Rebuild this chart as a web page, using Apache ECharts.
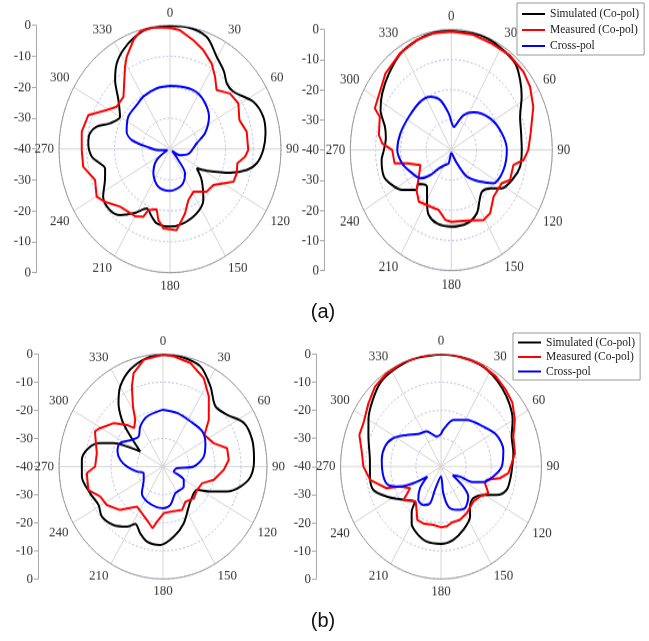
<!DOCTYPE html>
<html>
<head>
<meta charset="utf-8">
<script src="https://cdn.jsdelivr.net/npm/echarts@6/dist/echarts.min.js"></script>
<style>
  html, body { margin: 0; padding: 0; background: #fff; width: 649px; height: 641px; overflow: hidden; }
  .plot { position: absolute; transform-origin: 0 0; }
</style>
</head>
<body>
<div id="p1" class="plot"></div>
<div id="p2" class="plot"></div>
<div id="p3" class="plot"></div>
<div id="p4" class="plot"></div>
<div id="overlay" style="position:absolute;left:0;top:0;width:649px;height:641px;pointer-events:none;"></div>
<script>
// pattern values: [angle in degrees, gain in dB]
const simA1 = [[0,-0.2],[8.6,-0.1],[20,-1.4],[29.3,-5.7],[37.9,-8.3],[43.9,-10.5],[50.9,-10.6],[63,-6.3],[72.8,-4.8],[81.6,-5.2],[90.5,-6.4],[98.4,-8.4],[103.8,-11.5],[109.5,-17],[117.9,-25],[123,-28.5],[131.4,-24.8],[143.9,-19.6],[155.2,-17.1],[168.7,-15.5],[180,-14.9],[191.3,-15.5],[196.8,-17.2],[203.6,-19],[211.5,-15.8],[220.1,-12.1],[227.7,-10.7],[237.4,-11.4],[246.8,-14.5],[255.1,-15.8],[259.6,-14.3],[265,-11.7],[273.6,-10.5],[280,-10.7],[285.3,-12.6],[291,-16.8],[300,-19.2],[310.4,-15.6],[318.4,-10.2],[325.3,-6.3],[332.3,-3.8],[339.8,-1.8],[347.9,-0.3],[360,-0.2]];
const measA1 = [[0,-0.8],[5.3,-1.4],[13.4,-3.8],[20.5,-5.8],[28.4,-8.5],[34.7,-11.5],[41.4,-14.6],[50.3,-11.9],[59.1,-11.3],[69.4,-13.3],[78.5,-11.8],[90.6,-11.8],[95.2,-12.8],[100.8,-15.3],[108.1,-14.7],[114.8,-14.8],[126.7,-20.5],[136.3,-20.9],[148.7,-23.8],[158.2,-22.2],[165.4,-18.5],[174.8,-13.7],[185.3,-14.2],[190.4,-16.7],[193.8,-19.9],[201.6,-18.8],[203.7,-16.1],[210.2,-14.9],[224,-14.1],[234,-11],[239.8,-9.4],[249.6,-11.2],[259.6,-8.2],[269.4,-8.2],[280,-7.7],[290.5,-8.6],[298.9,-13.9],[305.5,-16.4],[315.2,-16.2],[328.7,-8.8],[332.4,-6.3],[339.5,-2.4],[344.1,-0.5],[351.3,-0.2],[360,-0.8]];
const crossA1 = [[0,-19.6],[6.7,-19.5],[23.8,-19.2],[37.1,-20.1],[53.4,-22.5],[68,-26.4],[79,-30.2],[90,-31.8],[103.6,-33.2],[118.5,-35.9],[128,-39],[139.9,-35.4],[145.6,-30.4],[160.2,-27.6],[180,-26.5],[199,-27.1],[217.3,-30.1],[233.4,-34],[248,-39],[264,-36],[275,-31.6],[282,-25.9],[289.7,-23.4],[304.8,-21.7],[319.9,-21.4],[330.4,-20.5],[346.3,-19.8],[360,-19.6]];

const simA2 = [[0,-0.5],[16.5,-0.2],[28.7,-0.8],[41.4,-1.7],[49.6,-4.2],[57.6,-7],[67.9,-10.6],[78.7,-11.8],[90,-12.1],[101.5,-12.2],[110.9,-13.7],[122.4,-16.3],[129.6,-20],[138.7,-21.6],[145.9,-20],[154.3,-16.7],[165.7,-14.9],[180,-14.6],[193,-15],[202.6,-16.7],[208.5,-19.9],[218.3,-24.5],[229.4,-22.8],[226.5,-20.8],[235.8,-16.4],[243.7,-13.8],[251.7,-11.9],[263.2,-12.2],[270,-13.3],[278.5,-13.8],[286.4,-12.6],[295.3,-9],[304.5,-6.8],[315.8,-4.6],[327.9,-2.2],[339.6,-1.1],[349.8,-0.5],[360,-0.5]];
const measA2 = [[0,-0.6],[12.8,-0.8],[24.6,-1.2],[36.5,-1],[47.7,-1.4],[56,-2.4],[66.2,-4.5],[80,-8.1],[90,-9.5],[96.6,-11.2],[101.4,-14.9],[113.2,-14.7],[118.9,-17.2],[132.8,-17.2],[143.7,-14],[151.2,-13.5],[165.2,-15.8],[180,-16.2],[185.8,-16.7],[194.1,-19.5],[203.8,-19.5],[217,-18.6],[226.2,-20.9],[233.9,-24],[247.9,-26.8],[255.9,-22],[259,-17.1],[270,-16.6],[274.6,-12.6],[279.8,-10.9],[291.3,-9.6],[294.5,-6.7],[305.3,-5.6],[314.3,-3.6],[328,-2],[340,-1],[350,-0.6],[360,-0.6]];
const crossA2 = [[0,-30.5],[8,-32.3],[14.2,-30.9],[22.8,-27.4],[35.2,-24.7],[55.8,-21.4],[74.6,-19.2],[90,-18],[107.8,-18.3],[123.4,-20],[132.5,-24.5],[144.9,-29.2],[153,-35],[165,-38.5],[180,-39],[193.3,-35.5],[205.6,-34.5],[219.4,-32.1],[225,-28.3],[232.5,-24.6],[246,-22.3],[257.3,-20],[270,-18.6],[285.3,-19.1],[303.3,-19.9],[322.6,-19.8],[334.9,-20.5],[345.3,-22.9],[355.1,-27.8],[360,-30.5]];

const simB1 = [[0,-0.2],[9.7,-0.3],[22,-1.6],[32.7,-6.2],[43.4,-10.6],[53.3,-9.2],[63.6,-5.2],[74.6,-4.4],[86.1,-4.9],[96,-6.1],[103.4,-9.3],[109.9,-13.8],[116,-19.7],[122.4,-24.5],[139.8,-23.7],[158.5,-18.3],[170.6,-14.7],[182.1,-12.1],[193,-12.6],[200.3,-14.7],[207.6,-17],[213,-14.5],[222.5,-11.8],[232.9,-10.5],[241.2,-11.7],[251.3,-10.4],[263.5,-8.6],[274.3,-8.7],[282.8,-10.6],[289,-14.4],[293.6,-19.2],[297.2,-24.4],[301.5,-29.7],[311.9,-22.2],[316.4,-17.1],[322.8,-11.7],[330,-7.1],[339.9,-3.3],[350.9,-0.9],[360,-0.2]];
const measB1 = [[0,-0.2],[6,-0.6],[16,-1.7],[26.5,-4.9],[35.3,-9.5],[46.7,-15.8],[54.8,-20.5],[67,-18.8],[75.2,-14.5],[84.7,-14.6],[92.9,-16.6],[103.7,-19.9],[111.5,-23.8],[122.4,-24.5],[133.6,-23.6],[145.4,-24.8],[154.6,-22.9],[170,-23.7],[179,-23.4],[186.7,-20.3],[190.3,-17.7],[198,-20],[215.2,-22.6],[226.9,-17.4],[237.7,-14.4],[246.2,-13.6],[253.8,-10.1],[265.4,-10.6],[270,-13.9],[280.6,-14.1],[295.5,-11],[299.4,-12.2],[309,-15.5],[316.9,-19.7],[320.9,-22.4],[327.2,-20.3],[331.6,-15.7],[337.2,-9.1],[341.2,-4.9],[349.1,-1.3],[360,-0.2]];
const crossB1 = [[0,-19.8],[15.9,-20.2],[33.4,-20.8],[50.3,-20.4],[63,-21.7],[77.2,-23.9],[90,-28.2],[96.3,-34.6],[113.6,-35.5],[116.1,-33.3],[120.9,-30.7],[131.8,-29.3],[153.3,-29.4],[168.2,-26.1],[180,-25.2],[189.1,-25.3],[206.3,-26.1],[220.6,-27.5],[237.4,-31.2],[252.4,-32.2],[259.8,-29.8],[270,-26.1],[278.2,-23.4],[287,-21.7],[296.8,-21.5],[308.4,-24.7],[318.7,-25.8],[328.4,-23.3],[340.9,-21.2],[360,-19.8]];

const simB2 = [[0,-0.1],[10.9,-0.2],[22.9,-0.6],[32.1,-1.5],[41.1,-3],[50.7,-4.8],[59.8,-7],[69.2,-9.9],[80.6,-10.8],[92.4,-11.8],[99.8,-12.1],[107.6,-12.6],[114.5,-15.6],[119.9,-19.8],[131.1,-22.9],[140.9,-21.7],[146.9,-18.8],[158.5,-15.8],[169.3,-13.5],[180,-12.5],[192.1,-12.7],[202.2,-14.4],[210.1,-16.7],[216.1,-20.2],[219.8,-23.8],[231.7,-20.9],[243.7,-15.9],[252.9,-11.8],[262.8,-11.5],[274.8,-11.6],[290.3,-9.2],[299.9,-6.7],[309.2,-4.4],[320.7,-1.7],[331.1,-0.8],[344,-0.2],[360,-0.1]];
const measB2 = [[0,0],[7,-0.1],[15.3,-0.3],[24.3,-0.5],[34.1,-1.2],[43.6,-2.5],[51.3,-3.6],[60.4,-6.2],[69.7,-9.3],[80.8,-10.2],[87.6,-11.8],[95,-13.1],[100,-16.2],[104.7,-21.2],[108.7,-21.5],[116.7,-18.9],[124.5,-21.2],[134,-22.1],[148.4,-20.5],[158.3,-19.6],[168,-19.6],[174,-18.6],[180,-18.4],[188.3,-19],[199.2,-18.6],[206.4,-18.8],[211.2,-21.3],[219,-24],[231.2,-20.8],[237.9,-25.5],[246.4,-22.2],[250.4,-17],[260.4,-11.4],[270,-9.1],[279.6,-8],[289.1,-5.6],[296.5,-5.5],[307.9,-3.4],[317.3,-1.3],[326.9,-0.4],[338,0],[348,0],[360,0]];
const crossB2 = [[0,-28.5],[4,-26.9],[16.5,-22.7],[31.6,-20.5],[49.8,-18],[63.1,-15.2],[76.6,-14.5],[90,-15.8],[99.7,-18.9],[108.3,-22.3],[113.4,-26],[115.2,-31.6],[123.6,-34.4],[128.7,-28.6],[134.5,-24.8],[147.1,-22.4],[157.9,-23.4],[168.4,-25.5],[174.5,-30.5],[180,-36.5],[196.2,-31.4],[198.5,-26.2],[207.3,-24.6],[217.4,-25.1],[227.3,-28.6],[236.8,-33.5],[241.7,-27.5],[246.4,-22.2],[252.7,-18],[261.2,-16.8],[275.7,-16.3],[287.7,-16.6],[298,-18.5],[309.4,-22.3],[322.1,-25.3],[335.3,-26.3],[342.2,-27.8],[350.8,-29.2],[360,-28.5]];

const seriesNames = ['Simulated (Co-pol)', 'Measured (Co-pol)', 'Cross-pol'];
const seriesColors = ['#000000', '#ff0000', '#0000ff'];
const panelLabels = ['(a)', '(b)'];

// screen placement of each polar plot (the source figure is stretched vertically)
const frames = [
  { id: 'p1', left: 0,   top: 0,   width: 320, height: 300, cx: 170,   cy: 149,   rx: 111,   ry: 123.7, axisX: 36,  data: [simA1, measA1, crossA1] },
  { id: 'p2', left: 300, top: 0,   width: 349, height: 300, cx: 451.3, cy: 150,   rx: 101,   ry: 120.6, axisX: 323, data: [simA2, measA2, crossA2] },
  { id: 'p3', left: 0,   top: 320, width: 320, height: 321, cx: 163,   cy: 466.5, rx: 104,   ry: 112.5, axisX: 38,  data: [simB1, measB1, crossB1] },
  { id: 'p4', left: 285, top: 320, width: 364, height: 321, cx: 441,   cy: 466.5, rx: 100.5, ry: 112.5, axisX: 316, data: [simB2, measB2, crossB2] }
];

const labelFont = 'Liberation Serif';

frames.forEach(f => {
  const k = f.ry / f.rx;
  const el = document.getElementById(f.id);
  el.style.left = f.left + 'px';
  el.style.top = f.top + 'px';
  el.style.width = f.width + 'px';
  el.style.height = (f.height / k) + 'px';
  el.style.transform = 'scaleY(' + k + ')';

  const cx = f.cx - f.left;
  const cy = (f.cy - f.top) / k;
  const chart = echarts.init(el);

  chart.setOption({
    animation: false,
    polar: { center: [cx, cy], radius: f.rx },
    angleAxis: {
      type: 'value', min: 0, max: 360, interval: 30,
      startAngle: 90, clockwise: true, z: 1,
      axisLine: { lineStyle: { color: '#9a9a9a', width: 1 } },
      axisTick: { show: false },
      axisLabel: {
        margin: 5, color: '#333', fontFamily: labelFont, fontSize: 13,
        formatter: v => (v === 360 ? '' : String(v))
      },
      splitLine: { lineStyle: { color: '#d4d4d4', width: 1 } }
    },
    radiusAxis: {
      min: -40, max: 0, interval: 10, z: 0,
      axisLine: { show: false },
      axisTick: { show: false },
      axisLabel: { show: false },
      splitLine: { lineStyle: { color: '#b4b4f0', width: 1, type: [2, 2] } }
    },
    grid: { left: f.axisX - f.left, top: cy - f.rx, height: 2 * f.rx, width: 1 },
    xAxis: { type: 'value', show: false },
    yAxis: {
      type: 'value', min: -40, max: 40, interval: 10,
      axisLine: { show: true, lineStyle: { color: '#aaa' } },
      axisTick: { show: true, length: 4, lineStyle: { color: '#aaa' } },
      splitLine: { show: false },
      axisLabel: {
        margin: 5, color: '#333', fontFamily: labelFont, fontSize: 13,
        formatter: v => String(Math.abs(v) - 40)
      }
    },
    series: f.data.map((d, i) => ({
      name: seriesNames[i],
      type: 'line',
      coordinateSystem: 'polar',
      data: d.map(p => [p[1], p[0]]),
      symbol: 'none',
      smooth: i === 1 ? false : 0.3,
      lineStyle: { color: seriesColors[i], width: 2 },
      z: 2 + i
    }))
  });
});

// legends and panel captions
const overlay = echarts.init(document.getElementById('overlay'));
const legendBase = {
  orient: 'vertical',
  icon: 'rect',
  itemWidth: 23,
  itemHeight: 2,
  borderColor: '#999',
  borderWidth: 1,
  data: seriesNames,
  textStyle: { fontFamily: labelFont, fontSize: 11.5, color: '#222' }
};
overlay.setOption({
  animation: false,
  grid: { left: 0, top: 0, width: 1, height: 1, show: false },
  xAxis: { type: 'value', show: false },
  yAxis: { type: 'value', show: false },
  legend: [
    Object.assign({}, legendBase, { left: 517, top: 3, padding: [4, 5, 2, 5], itemGap: 2, textStyle: Object.assign({}, legendBase.textStyle, { lineHeight: 14 }) }),
    Object.assign({}, legendBase, { left: 513, top: 333, padding: [3, 5, 2, 5], itemGap: 1.5, textStyle: Object.assign({}, legendBase.textStyle, { lineHeight: 13 }) })
  ],
  graphic: [
    { type: 'text', x: 323, y: 312, style: { text: panelLabels[0], font: '20px "Liberation Sans"', fill: '#111', align: 'center', verticalAlign: 'middle' } },
    { type: 'text', x: 323, y: 621, style: { text: panelLabels[1], font: '20px "Liberation Sans"', fill: '#111', align: 'center', verticalAlign: 'middle' } }
  ],
  series: seriesNames.map((n, i) => ({
    name: n, type: 'line', data: [], symbol: 'none',
    color: seriesColors[i], lineStyle: { color: seriesColors[i] }
  }))
});
</script>
</body>
</html>
